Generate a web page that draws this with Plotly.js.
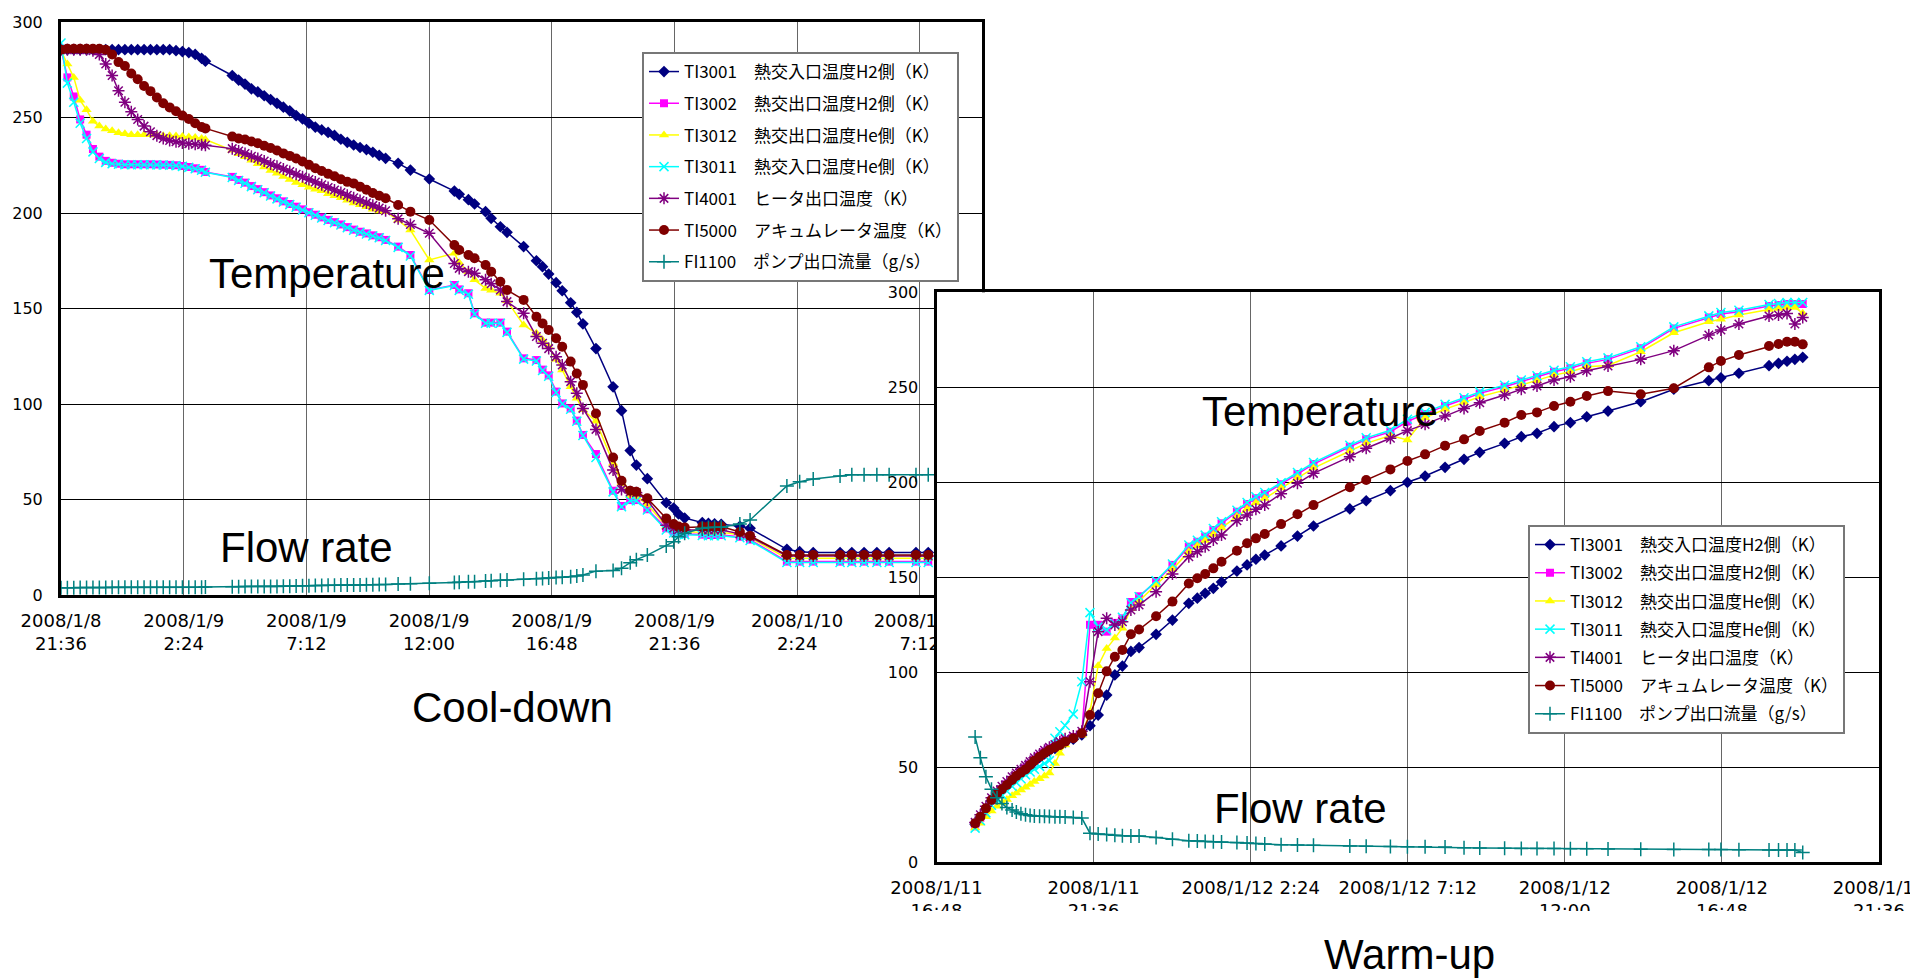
<!DOCTYPE html>
<html><head><meta charset="utf-8">
<script src="https://cdn.plot.ly/plotly-3.0.1.min.js"></script>
<style>html,body{margin:0;padding:0;background:#fff;overflow:hidden}#chart{width:1910px;height:978px}</style>
</head><body><div id="chart"></div>
<script>
// ---------- series names ----------
const seriesNames = [
  'TI3001　熱交入口温度H2側（K）',
  'TI3002　熱交出口温度H2側（K）',
  'TI3012　熱交出口温度He側（K）',
  'TI3011　熱交入口温度He側（K）',
  'TI4001　ヒータ出口温度（K）',
  'TI5000　アキュムレータ温度（K）',
  'FI1100　ポンプ出口流量（g/s）'
];

// ---------- Cool-down (hours after 2008/1/8 21:36) ----------
const coolHours = [0,0.25,0.5,0.75,1,1.25,1.5,1.75,2,2.25,2.5,2.75,3,3.25,3.5,3.75,4,4.25,4.5,4.75,5,5.25,5.5,5.65,
6.7,6.95,7.2,7.45,7.7,7.95,8.2,8.45,8.7,8.95,9.2,9.45,9.7,9.95,10.2,10.45,10.7,10.95,11.2,11.45,11.7,11.95,12.2,12.45,12.7,
13.19,13.67,14.41,15.39,15.58,15.94,16.18,16.61,16.83,17.19,17.45,18.10,18.60,18.84,19.08,19.37,19.61,19.94,20.18,20.42,20.93,21.60,21.93,22.27,22.51,22.94,23.68,23.97,24.16,24.40,25.09,25.33,25.57,25.83,26.56,26.96,28.40,28.90,29.43,30.48,30.94,31.42,31.92,32.40,33.45,33.93];

const coolTI3001 = [285.5,285.5,285.5,285.5,285.5,285.5,285.5,285.5,285.5,285.5,285.5,285.5,285.5,285.5,285.5,285.5,285.5,285.5,285,284.5,284,283,281,279.5,
272,269.6,267.5,265,263.4,261.4,259.4,257.4,255.4,253.5,251,249.3,247,245,243.5,242.2,240.6,238.6,237,235.6,234.3,233.2,231.8,230.2,228.6,
226,222.5,217.8,211.5,209.8,207,204.7,200.7,197.2,192.8,189.9,182.4,175,171.9,168,163.5,159.3,153,148,142,129,109,96.5,75.6,68,60.9,48.3,45.5,42.4,40.3,37.9,37.5,37.3,37,36,34.9,23.9,22.7,22.2,22.2,22.2,22.2,22.2,22.2,22.2,22.2];
const coolTI3002 = [286,271,261,249,241,233.5,229.5,227.3,226.3,225.8,225.5,225.5,225.5,225.5,225.5,225.4,225.3,225.2,225,224.6,224.1,223.4,222.6,221.5,
218.9,217.3,215.9,214.1,212.5,210.9,209.2,207.7,206.1,204.7,203.3,201.9,200.4,199.1,197.7,196.4,195.2,194,192.6,191.3,190.2,189.3,188.3,187.3,185.9,
182.4,178,159.7,162.3,160,158,147.5,142.6,142.6,142.6,137.9,123.9,123,118,115,106.5,100.3,97.7,91.3,83.8,73.8,54.6,46.6,49.7,49.7,44.9,34.9,33.2,32.3,32,31.6,31.4,31.4,31.4,30.5,29,17.5,17.5,17.5,17.5,17.5,17.5,17.5,17.5,17.5,17.5];
const coolTI3012 = [285,278,271,259,254,248,245.5,244,243,242,241.5,241,241,241,241,240.8,240.5,240.5,240.3,240,239.8,239.5,239,238.5,
232.8,231,229.5,227.6,225.8,224.1,222.3,220.8,219.1,217.6,216,214.8,213.5,212.5,211.6,210.1,209,208,206.7,205.3,204.3,203.3,202,201,200.7,
196.3,191.1,175.4,178.9,174,169.3,165,160.5,159.5,158,154,141.4,137,133.5,130,123.4,117.8,109,103,97,91,69,58.6,52,51.5,47.5,36,34,33.3,33,32.8,32.8,32.8,32.8,31.5,30,19.2,19.2,19.2,19.2,19.2,19.2,19.2,19.2,19.2,19.2];
const coolTI3011 = [289,268,258,247,239,232,228.5,226.5,225.8,225.5,225.3,225.3,225.3,225.3,225.3,225.2,225.1,225,224.8,224.4,223.9,223.2,222.4,221.3,
218.6,217,215.6,213.8,212.2,210.6,208.9,207.4,205.8,204.4,203,201.6,200.1,198.8,197.4,196.1,194.9,193.7,192.3,191,189.9,189,188,187,185.6,
182,177.5,159.5,162,159.5,157.5,147,142.3,142.3,142.3,137.5,123.5,122.5,117.5,114.5,106,100,97.3,91,83.5,72,54,46.2,49.3,49.3,44.5,34,32.5,31.8,31.6,31.2,31,31,31,30,28.5,17,17,17,17,17,17,17,17,17,17];
const coolTI4001 = [285.5,285.5,285.5,285.5,285.5,285,283,278,272,264,258,253,249,245.5,242.5,240.5,239,238,237.3,236.6,236.3,236,235.7,235.5,
233.7,232.5,231.2,229.7,228.5,227.2,225.7,224.5,223,221.7,220.3,219,217.5,216.2,214.8,213.4,212,210.7,209.3,208,206.5,205.3,204,202.6,201.2,
197,194,189.4,173.6,171,169.3,168.5,165,163,159.7,153.6,147.5,135.3,131.8,129,124.8,120.4,111.7,105.6,97.7,86.7,65.4,55.3,54,53.5,49.7,36.5,35,34.2,34,34,34,34,34,32,30.5,20.4,20.4,20.4,20.4,20.4,20.4,20.4,20.4,20.4,20.4];
const coolTI5000 = [285.5,286,286,286,286,286,286,285.5,283,279,277,273,270,266.5,263.8,260.5,257.5,255.3,253.3,251,249.2,247,245,244.3,
240,239,238.5,237.4,236.5,235.2,234,232.7,231.2,229.9,228.5,227,225.2,223.4,222,220.5,219.2,217.7,216.3,215.5,213.8,212.2,210.5,209,207.7,
204.2,200.7,196.3,183.2,180.6,178,176.3,172.8,169.3,164,159.7,154.5,145.7,142.2,138.7,134.4,130,122.2,116,110,95,72,59.8,54.6,54,50.6,40.1,37.2,35.8,35.4,35.8,35.8,35.8,35.8,33,30.9,20.9,20.9,20.9,20.9,20.9,20.9,20.9,20.9,20.9,20.9];
const coolFI1100 = [3.8,3.8,3.8,3.9,3.9,3.9,3.9,3.9,4,4,4,4,4,4,4,4,4,4,4,4.1,4.1,4.1,4.1,4.2,
4.3,4.3,4.4,4.4,4.4,4.5,4.5,4.5,4.6,4.6,4.7,4.8,4.9,5,5,5.1,5.1,5.2,5.2,5.3,5.3,5.4,5.4,5.5,5.5,
5.8,5.9,6.1,6.6,6.7,6.9,7,7.3,7.5,7.7,7.9,8.2,8.5,8.7,8.9,9.1,9.3,9.6,10,10.5,12.5,12.8,14,16.9,18.5,20.9,25.7,27.9,30.5,32.3,34.9,35.3,35.5,35.5,37.2,39.3,57.1,59.3,60.7,62.3,63,63,63,63,63,63];

// ---------- Warm-up (hours after 2008/1/11 16:48) ----------
const warmHours = [1.18,1.34,1.51,1.68,1.85,2.00,2.15,2.31,2.44,2.58,2.72,2.86,2.99,3.15,3.30,3.45,3.62,3.77,3.93,4.18,4.44,4.69,
4.94,5.20,5.45,5.68,5.94,6.19,6.71,7.21,7.71,7.97,8.21,8.46,8.71,9.18,9.49,9.76,10.03,10.53,11.03,11.52,12.63,13.13,13.87,14.39,14.93,15.54,16.12,16.60,17.36,17.87,18.35,18.87,19.37,19.87,20.52,21.52,22.53,23.60,23.97,24.52,25.44,25.73,25.99,26.23,26.47];

const warmTI3001 = [20,23.5,28,32.3,35.5,38,40.3,43,45,47,48.5,50.8,53,55.2,57,58.6,60,61.2,63,64.8,67,71.9,
77.5,88,98.6,103.3,111,113,120,127.5,136.3,139,141.6,144.2,147.5,153.3,156.5,159.5,161.7,166.5,171.7,177,186,190.3,195.6,200,203.3,207.9,212.1,215.8,220.5,224,225.8,229.3,231.4,234.5,237.5,242.4,249,253.5,255,257.4,261.4,262.6,263.7,264.7,265.8];
const warmTI3002 = [19,23.5,28,32.5,36,38.5,41,43.5,45.5,47.5,49.5,51.5,53.8,56,58,59.8,61,62.5,64,66,68,125,
125,121.4,126,128.4,137,140,147.7,156.5,166.1,168.7,171.4,174.9,178.4,184.5,188.6,191.6,193.8,199,204.4,209.6,218.7,222.6,226.6,232,236,240.2,243.7,246.8,250.3,253,255.3,258.2,260,262.6,264.7,270.5,281,286.8,288.6,289.8,292.8,293.3,293.8,293.8,293.8];
const warmTI3012 = [18,20.5,24,27,29.5,31.4,33,35,36.5,38,39.5,41,42.5,44,45.4,47,52,57.4,61.7,65.3,67,79.3,
103.5,112.5,118,123.2,133.5,137.5,146,154.2,163.5,166.5,169.4,172.5,176,182,186,189.3,191.5,197,202.4,207.5,216.5,220.5,224.6,222.3,234,238.5,242,245,248.5,251.2,253.5,256.4,258.2,260.8,261.5,268.7,278.7,284.5,285.8,288,291,291.5,292,292,289];
const warmTI3011 = [18,22,26,30,33,35.5,37.5,40,42,44,46,47.5,49,50.5,52,53.5,65.3,68.7,72,78,95,131.4,
124,122.3,125.5,129,136.6,139.8,148.2,157,167,169.5,172.2,175.7,179.2,185.3,189.4,192.4,194.6,199.8,205.2,210.4,219.5,223.4,227.4,233.2,236.8,241,244.5,247.6,251.1,253.8,256.1,259,260.8,263.4,265.5,271.3,281.8,287.6,289.4,290.6,293.6,294.1,294.6,294.6,294.6];
const warmTI4001 = [21,25,29.5,34,37.5,40,42.5,45,47,49,51,53,55,57,59,60.5,62,63.5,65,66.5,69,95,
121.4,128.4,124.9,126.6,132.8,135.4,142.4,151.7,160.8,163.5,166.1,169.6,172.2,179.8,182.8,185.8,188.1,194,199.5,204.7,213.5,217.9,223.2,227.2,230.5,234.9,238.9,241.9,245.9,249,250.7,253.8,255.6,258.7,261.2,264.7,269.3,277.5,280.2,283.3,287.5,288.1,288.9,283.3,286.8];
const warmTI5000 = [20.5,24,28.4,32.8,36,38.4,40.7,43.3,45.4,47.2,48.9,51.2,53.5,55.6,57.4,59.1,60.5,61.7,63.5,65.3,67.9,77.5,
89,100.5,108.2,111.7,120,122.5,129.5,137.2,146.7,149.5,151.7,154.7,158.2,164,167.9,170.5,172.8,178,183.2,188,197.4,201.2,206.8,211.2,214.7,219.3,222.6,227,231.4,235.4,236.8,240.2,242.4,245.4,248,246.3,249.5,260.5,263.8,267,271.7,272.8,274,274,272.6];
const warmFI1100 = [66,55,45,38.5,34,31,28.8,27.5,26.5,25.6,25,24.6,24.4,24.3,24.2,24.1,24,24,23.9,23.6,23.3,15.3,
14.9,14.6,14.3,14,13.8,13.8,13.1,12.1,11.4,11.2,11,10.8,10.7,10.4,10.1,9.9,9.6,9.3,9.1,9,8.6,8.5,8.3,8.2,8.2,8,7.7,7.5,7.4,7.2,7.2,7.2,7.1,7.1,7,6.9,6.8,6.7,6.7,6.6,6.5,6.5,6.5,6.5,5.1];

// ---------- tick labels ----------
const coolTickVals = ['2008-01-08 21:36','2008-01-09 02:24','2008-01-09 07:12','2008-01-09 12:00','2008-01-09 16:48','2008-01-09 21:36','2008-01-10 02:24','2008-01-10 07:12'];
const coolTickText = ['2008/1/8<br>21:36','2008/1/9<br>2:24','2008/1/9<br>7:12','2008/1/9<br>12:00','2008/1/9<br>16:48','2008/1/9<br>21:36','2008/1/10<br>2:24','2008/1/10<br>7:12'];
const warmTickVals = ['2008-01-11 16:48','2008-01-11 21:36','2008-01-12 02:24','2008-01-12 07:12','2008-01-12 12:00','2008-01-12 16:48','2008-01-12 21:36'];
const warmTickText = ['2008/1/11<br>16:48','2008/1/11<br>21:36','2008/1/12 2:24','2008/1/12 7:12','2008/1/12<br>12:00','2008/1/12<br>16:48','2008/1/12<br>21:36'];
const yTickVals = [0,50,100,150,200,250,300];

// ---------- build ----------
const W = 1910, H = 978;
const px = x => x / W, py = y => 1 - y / H;
function pad(n){ return (n < 10 ? '0' : '') + n; }
function toDate(base, h){
  const d = new Date(base + Math.round(h * 3600000));
  return d.getUTCFullYear() + '-' + pad(d.getUTCMonth() + 1) + '-' + pad(d.getUTCDate()) + ' ' +
         pad(d.getUTCHours()) + ':' + pad(d.getUTCMinutes()) + ':' + pad(d.getUTCSeconds());
}
const coolBase = Date.UTC(2008, 0, 8, 21, 36);
const warmBase = Date.UTC(2008, 0, 11, 16, 48);

const styles = [
  {color:'#000080', symbol:'diamond', size:9, lw:0},
  {color:'#FF00FF', symbol:'square', size:8, lw:0},
  {color:'#FFFF00', symbol:'triangle-up', size:9, lw:0},
  {color:'#00FFFF', symbol:'x-thin-open', size:9, lw:1.5},
  {color:'#800080', symbol:'asterisk-open', size:10, lw:1.5},
  {color:'#800000', symbol:'circle', size:10, lw:0},
  {color:'#008080', symbol:'cross-thin-open', size:10, lw:1.5}
];

const coolSeries = [coolTI3001, coolTI3002, coolTI3012, coolTI3011, coolTI4001, coolTI5000, coolFI1100];
const warmSeries = [warmTI3001, warmTI3002, warmTI3012, warmTI3011, warmTI4001, warmTI5000, warmFI1100];

const traces = [];
function addTraces(hours, base, series, xa, ya, legendId, gp){
  const xs = hours.map(h => toDate(base, h));
  series.forEach((vals, i) => {
    const s = styles[i];
    traces.push({
      type:'scatter', mode:'lines+markers', x: xs, y: vals,
      xaxis: xa, yaxis: ya, name: seriesNames[i],
      legend: legendId, legendgroup: gp + i,
      line:{color:s.color, width:1.5},
      marker:{color:s.color, symbol:s.symbol, size:s.size, line:{width:s.lw, color:s.color}},
      hoverinfo:'skip'
    });
  });
}
addTraces(coolHours, coolBase, coolSeries, 'x', 'y', 'legend', 'c');
addTraces(warmHours, warmBase, warmSeries, 'x2', 'y2', 'legend2', 'w');

const xCommon = {type:'date', showgrid:true, gridcolor:'#666', gridwidth:1, showline:true, linecolor:'#000', linewidth:3,
  mirror:true, zeroline:false, ticks:'', tickfont:{family:'DejaVu Sans', size:18, color:'#000'}, fixedrange:true,
  tickmode:'array', ticklabelstandoff:7, ticklabeloverflow:'allow'};
const yCommon = {range:[0,300], tickmode:'array', tickvals:yTickVals, showgrid:true, gridcolor:'#000', gridwidth:1, showline:true,
  linecolor:'#000', linewidth:3, mirror:true, zeroline:false, ticks:'', tickfont:{family:'DejaVu Sans', size:16, color:'#000'},
  fixedrange:true, ticklabelstandoff:12};

const annFont = {family:'Liberation Sans, Arial, sans-serif', size:42, color:'#000'};
const ann = (t, x, y) => ({text:t, x:px(x), y:py(y), xref:'paper', yref:'paper', xanchor:'center', yanchor:'middle', showarrow:false, font:annFont});

const layout = {
  width:W, height:H, margin:{l:0, r:0, t:0, b:0},
  paper_bgcolor:'#fff', plot_bgcolor:'#fff',
  showlegend:true,
  xaxis:Object.assign({}, xCommon, {domain:[px(61), px(982)], anchor:'y',
    range:['2008-01-08 21:36:00','2008-01-10 09:38:00'], tickvals:coolTickVals, ticktext:coolTickText}),
  yaxis:Object.assign({}, yCommon, {domain:[py(595), py(22)], anchor:'x'}),
  xaxis2:Object.assign({}, xCommon, {domain:[px(936.5), px(1879)], anchor:'y2',
    range:['2008-01-11 16:48:00','2008-01-12 21:36:02'], tickvals:warmTickVals, ticktext:warmTickText}),
  yaxis2:Object.assign({}, yCommon, {domain:[py(862.3), py(292.3)], anchor:'x2'}),
  legend:{x:px(642), y:py(52), xanchor:'left', yanchor:'top', bgcolor:'#fff', bordercolor:'#777', borderwidth:2,
    font:{family:'Noto Sans CJK JP', size:17, color:'#000'}, traceorder:'grouped', tracegroupgap:6.6},
  legend2:{x:px(1528), y:py(525), xanchor:'left', yanchor:'top', bgcolor:'#fff', bordercolor:'#777', borderwidth:2,
    font:{family:'Noto Sans CJK JP', size:17, color:'#000'}, traceorder:'grouped', tracegroupgap:3.1},
  annotations:[
    ann('Temperature', 327, 273.5),
    ann('Flow rate', 306, 547.5),
    ann('Cool-down', 512, 707),
    ann('Temperature', 1320, 412),
    ann('Flow rate', 1300, 808),
    ann('Warm-up', 1409, 954)
  ],
  shapes:[
    {type:'rect', xref:'paper', yref:'paper', x0:px(870), x1:1, y0:0, y1:py(911), fillcolor:'#fff', line:{width:0}, layer:'above'}
  ]
};

Plotly.newPlot('chart', traces, layout, {staticPlot:true, displayModeBar:false});
</script>
</body></html>
